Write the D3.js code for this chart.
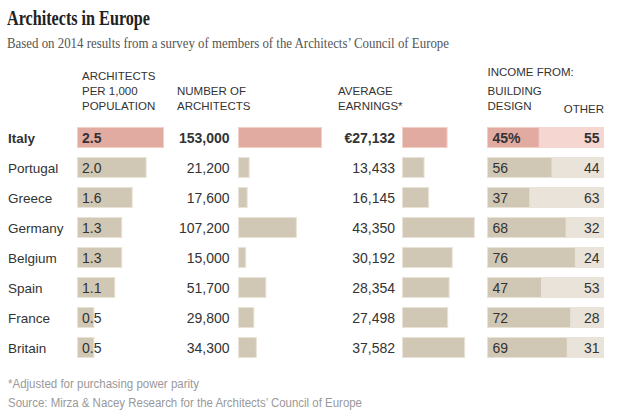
<!DOCTYPE html>
<html>
<head>
<meta charset="utf-8">
<script src="https://cdn.jsdelivr.net/npm/d3@7"></script>
<style>
  body { margin: 0; background: #fff; }
  text { font-family: "Liberation Sans", Arial, sans-serif; fill: #333; }
  .serif { font-family: "Liberation Serif", "Times New Roman", serif; }
</style>
</head>
<body>
<script>
var countries = ["Italy", "Portugal", "Greece", "Germany", "Belgium", "Spain", "France", "Britain"];
var perThousand = [2.5, 2.0, 1.6, 1.3, 1.3, 1.1, 0.5, 0.5];          // architects per 1,000 population
var numArchitects = [153000, 21200, 17600, 107200, 15000, 51700, 29800, 34300];
var earnings = [27132, 13433, 16145, 43350, 30192, 28354, 27498, 37582]; // euros, PPP adjusted
var designShare = [45, 56, 37, 68, 76, 47, 72, 69];                   // % income from building design
var otherShare = [55, 44, 63, 32, 24, 53, 28, 31];                    // % income from other

var width = 618, height = 420;

var svg = d3.select("body").append("svg").attr("width", width).attr("height", height);

// colours: Italy highlighted pink, the rest beige
var fillMain = function(i) { return i === 0 ? "#e2aba2" : "#d1c7b5"; };
var strokeMain = function(i) { return i === 0 ? "#f3cfc8" : "#e9e2d6"; };
var fillLight = function(i) { return i === 0 ? "#f5d6d0" : "#e9e3d9"; };

// rows
var y = d3.scaleBand().domain(countries).range([122.5, 362.5]).paddingInner(0.3).paddingOuter(0.15);

// column scales
var x1 = d3.scaleLinear().domain([0, 2.5]).range([77, 164]);
var x2 = d3.scaleLinear().domain([0, 153000]).range([238, 322]);
var x3 = d3.scaleLinear().domain([0, 43350]).range([402, 474.8]);
var x4 = d3.scaleLinear().domain([0, 100]).range([487, 604]);

// title + subtitle
svg.append("text").attr("class", "serif").attr("x", 7).attr("y", 25)
   .style("font-size", "21px").style("font-weight", "bold").style("fill", "#222")
   .attr("textLength", 143).attr("lengthAdjust", "spacingAndGlyphs")
   .text("Architects in Europe");

svg.append("text").attr("class", "serif").attr("x", 7).attr("y", 48)
   .style("font-size", "14px").style("fill", "#555")
   .attr("textLength", 442).attr("lengthAdjust", "spacingAndGlyphs")
   .text("Based on 2014 results from a survey of members of the Architects\u2019 Council of Europe");

// column headers
function header(lines, x, y0, anchor) {
  var t = svg.append("text").attr("x", x).attr("y", y0)
      .attr("text-anchor", anchor || "start")
      .style("font-size", "11.5px");
  lines.forEach(function(l, i) {
    t.append("tspan").attr("x", x).attr("dy", i === 0 ? 0 : 15).text(l);
  });
}
header(["ARCHITECTS", "PER 1,000", "POPULATION"], 82, 80);
header(["NUMBER OF", "ARCHITECTS"], 177, 95);
header(["AVERAGE", "EARNINGS*"], 338, 95);
header(["INCOME FROM:"], 487.5, 76);
header(["BUILDING", "DESIGN"], 487.5, 95);
header(["OTHER"], 604, 113, "end");

var rows = svg.selectAll("g.row").data(countries).enter().append("g")
    .attr("class", "row")
    .attr("transform", function(d) { return "translate(0," + y(d) + ")"; });

var bh = y.bandwidth();
var ty = bh / 2 + 5;
var weight = function(d, i) { return i === 0 ? "bold" : "normal"; };
var numSize = "14px";

// country name
rows.append("text").attr("x", 8).attr("y", ty)
    .style("font-size", "13.5px").style("font-weight", weight)
    .text(function(d) { return d; });

// per 1,000
rows.append("rect")
    .attr("x", x1(0) + 0.5).attr("y", 0.5)
    .attr("width", function(d, i) { return x1(perThousand[i]) - x1(0) - 1; })
    .attr("height", bh - 1)
    .attr("fill", function(d, i) { return fillMain(i); })
    .attr("stroke", function(d, i) { return strokeMain(i); });
rows.append("text").attr("x", 82).attr("y", ty)
    .style("font-size", numSize).style("font-weight", weight)
    .text(function(d, i) { return d3.format(".1f")(perThousand[i]); });

// number of architects
rows.append("rect")
    .attr("x", x2(0) + 0.5).attr("y", 0.5)
    .attr("width", function(d, i) { return x2(numArchitects[i]) - x2(0) - 1; })
    .attr("height", bh - 1)
    .attr("fill", function(d, i) { return fillMain(i); })
    .attr("stroke", function(d, i) { return strokeMain(i); });
rows.append("text").attr("x", 229.5).attr("y", ty).attr("text-anchor", "end")
    .style("font-size", numSize).style("font-weight", weight)
    .text(function(d, i) { return d3.format(",")(numArchitects[i]); });

// average earnings
rows.append("rect")
    .attr("x", x3(0) + 0.5).attr("y", 0.5)
    .attr("width", function(d, i) { return x3(earnings[i]) - x3(0) - 1; })
    .attr("height", bh - 1)
    .attr("fill", function(d, i) { return fillMain(i); })
    .attr("stroke", function(d, i) { return strokeMain(i); });
rows.append("text").attr("x", 395).attr("y", ty).attr("text-anchor", "end")
    .style("font-size", numSize).style("font-weight", weight)
    .text(function(d, i) { return (i === 0 ? "\u20ac" : "") + d3.format(",")(earnings[i]); });

// income split
rows.append("rect")
    .attr("x", x4(0)).attr("y", 0)
    .attr("width", x4(100) - x4(0))
    .attr("height", bh)
    .attr("fill", function(d, i) { return fillLight(i); });
rows.append("rect")
    .attr("x", x4(0) + 0.5).attr("y", 0.5)
    .attr("width", function(d, i) { return x4(designShare[i]) - x4(0) - 1; })
    .attr("height", bh - 1)
    .attr("fill", function(d, i) { return fillMain(i); })
    .attr("stroke", function(d, i) { return strokeMain(i); });
rows.append("text").attr("x", 492.5).attr("y", ty)
    .style("font-size", numSize).style("font-weight", weight)
    .text(function(d, i) { return designShare[i] + (i === 0 ? "%" : ""); });
rows.append("text").attr("x", 599.5).attr("y", ty).attr("text-anchor", "end")
    .style("font-size", numSize).style("font-weight", weight)
    .text(function(d, i) { return otherShare[i]; });

// footnotes
svg.append("text").attr("x", 8).attr("y", 388)
   .style("font-size", "12px").style("fill", "#999")
   .attr("textLength", 191).attr("lengthAdjust", "spacingAndGlyphs")
   .text("*Adjusted for purchasing power parity");
svg.append("text").attr("x", 8).attr("y", 407)
   .style("font-size", "12px").style("fill", "#999")
   .attr("textLength", 354).attr("lengthAdjust", "spacingAndGlyphs")
   .text("Source: Mirza & Nacey Research for the Architects\u2019 Council of Europe");
</script>
</body>
</html>
